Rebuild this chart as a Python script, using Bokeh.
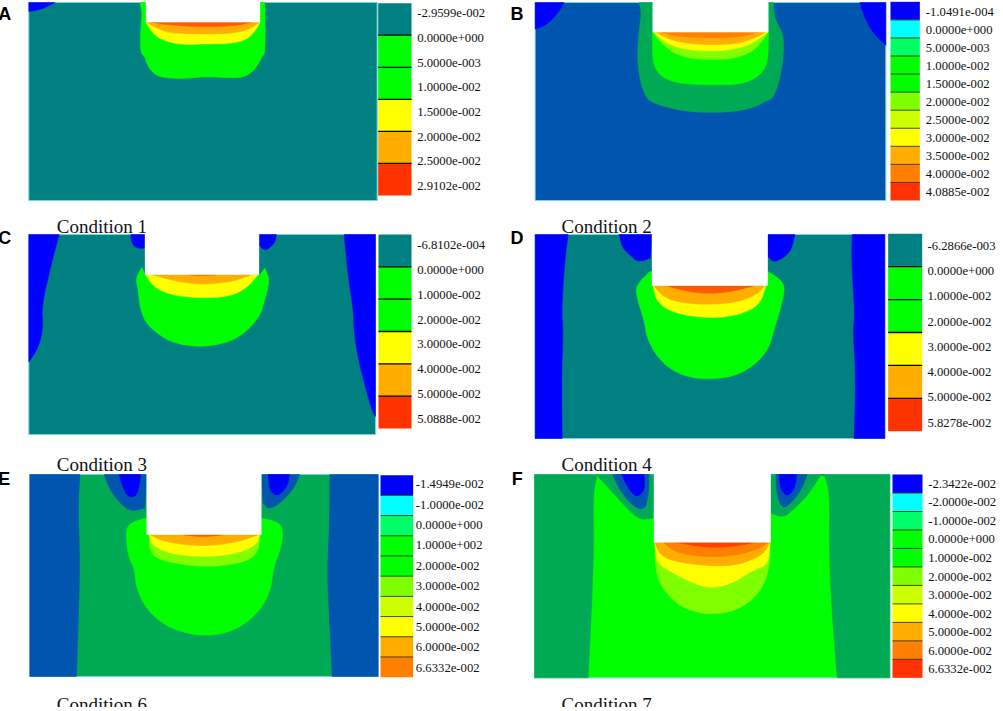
from bokeh.core.properties import value
from bokeh.embed import file_html
from bokeh.plotting import figure
from bokeh.resources import INLINE

TEAL = "#008080"
NAVY = "#0055ae"
MID = "#00aa55"
LIME = "#00ff00"
CHART = "#80ff00"
YELLOW = "#ffff00"
AMBER = "#ffae00"
ORANGE = "#ff8000"
HOT = "#ff5a00"
BLUE = "#0000ff"

# legend colours and tick labels
bands_short = [TEAL, LIME, LIME, YELLOW, AMBER, "#ff3300"]
bands_b = [BLUE, "#00ffff", "#00ff66", LIME, LIME, CHART, "#ccff00", YELLOW, AMBER, ORANGE, "#ff3300"]
bands_e = bands_b[:-1]

labels_a = ["-2.9599e-002", "0.0000e+000", "5.0000e-003", "1.0000e-002", "1.5000e-002", "2.0000e-002", "2.5000e-002", "2.9102e-002"]
labels_b = ["-1.0491e-004", "0.0000e+000", "5.0000e-003", "1.0000e-002", "1.5000e-002", "2.0000e-002", "2.5000e-002", "3.0000e-002", "3.5000e-002", "4.0000e-002", "4.0885e-002"]
labels_c = ["-6.8102e-004", "0.0000e+000", "1.0000e-002", "2.0000e-002", "3.0000e-002", "4.0000e-002", "5.0000e-002", "5.0888e-002"]
labels_d = ["-6.2866e-003", "0.0000e+000", "1.0000e-002", "2.0000e-002", "3.0000e-002", "4.0000e-002", "5.0000e-002", "5.8278e-002"]
labels_e = ["-1.4949e-002", "-1.0000e-002", "0.0000e+000", "1.0000e+002", "2.0000e-002", "3.0000e-002", "4.0000e-002", "5.0000e-002", "6.0000e-002", "6.6332e-002"]
labels_f = ["-2.3422e-002", "-2.0000e-002", "-1.0000e-002", "0.0000e+000", "1.0000e-002", "2.0000e-002", "3.0000e-002", "4.0000e-002", "5.0000e-002", "6.0000e-002", "6.6332e-002"]

# contour outlines, traced at 3x from each panel's corner: (colour, curve, sharp corners)
regions_a = [
    (BLUE, [(175, 18), (150, 32), (120, 42), (97, 45)], [(97, 18)]),
    (LIME, [(430, 18), (437, 50), (432, 100), (432, 170), (445, 180), (452, 205), (470, 230), (495, 243), (560, 247), (625, 240), (690, 244), (740, 243), (770, 225), (790, 195), (797, 180), (806, 170), (806, 60), (805, 18)], []),
    (YELLOW, [(448, 77), (465, 105), (490, 128), (550, 145), (625, 142), (700, 142), (750, 130), (775, 105), (791, 77)], []),
    (AMBER, [(450, 77), (480, 95), (520, 110), (625, 113), (720, 110), (765, 95), (790, 77)], []),
    (HOT, [(465, 77), (510, 85), (620, 92), (720, 88), (765, 77)], []),
]
regions_b = [
    (BLUE, [(203, 18), (180, 55), (150, 85), (116, 98)], [(116, 18)]),
    (BLUE, [(1090, 18), (1105, 65), (1130, 110), (1168, 147)], [(1168, 18)]),
    (MID, [(428, 18), (435, 50), (428, 100), (422, 180), (430, 250), (445, 295), (460, 315), (510, 332), (570, 345), (640, 348), (720, 345), (780, 330), (815, 310), (830, 305), (850, 250), (862, 170), (860, 110), (835, 70), (830, 18)], []),
    (LIME, [(468, 107), (468, 190), (480, 225), (510, 250), (560, 262), (640, 265), (720, 265), (770, 250), (800, 225), (815, 190), (816, 107)], []),
    (CHART, [(470, 107), (490, 135), (530, 170), (590, 188), (640, 188), (710, 188), (770, 165), (800, 130), (815, 107)], []),
    (YELLOW, [(472, 107), (495, 130), (540, 155), (640, 166), (740, 155), (790, 125), (814, 107)], []),
    (AMBER, [(478, 107), (510, 125), (560, 140), (640, 145), (720, 142), (775, 125), (808, 107)], []),
    (ORANGE, [(495, 107), (540, 120), (640, 125), (730, 122), (785, 107)], []),
]
regions_c = [
    (BLUE, [(188, 24), (165, 110), (135, 240), (140, 305), (125, 365), (97, 407)], [(97, 24)]),
    (BLUE, [(1043, 24), (1055, 150), (1072, 260), (1072, 310), (1085, 400), (1125, 550), (1137, 570)], [(1137, 24)]),
    (BLUE, [(403, 24), (405, 50), (420, 65), (445, 65)], [(445, 24)]),
    (BLUE, [(788, 55), (795, 65), (810, 72), (835, 50), (840, 24)], [(788, 24)]),
    (LIME, [(437, 122), (417, 155), (425, 190), (430, 240), (445, 285), (480, 320), (530, 350), (610, 362), (690, 350), (745, 320), (790, 270), (805, 220), (820, 160), (805, 125)], [(790, 145), (445, 145)]),
    (YELLOW, [(448, 145), (470, 180), (520, 205), (610, 215), (700, 210), (750, 185), (785, 145)], []),
    (AMBER, [(468, 145), (540, 165), (620, 175), (710, 165), (765, 145)], []),
    (HOT, [(580, 145), (620, 147), (660, 145)], []),
]
regions_d = [
    (BLUE, [(215, 24), (205, 100), (195, 250), (200, 315), (195, 450), (197, 636)], [(116, 636), (116, 24)]),
    (BLUE, [(1067, 24), (1065, 100), (1075, 260), (1070, 320), (1078, 450), (1073, 636)], [(1165, 636), (1165, 24)]),
    (BLUE, [(368, 24), (378, 65), (405, 90), (425, 107), (462, 95)], [(466, 24)]),
    (BLUE, [(815, 90), (830, 108), (860, 95), (885, 70), (895, 24)], [(814, 24)]),
    (LIME, [(460, 135), (420, 175), (420, 210), (445, 290), (450, 330), (480, 390), (530, 435), (590, 455), (645, 458), (710, 450), (770, 420), (815, 370), (830, 320), (865, 200), (860, 165), (815, 135)], []),
    (YELLOW, [(470, 178), (480, 225), (530, 260), (640, 276), (730, 265), (790, 235), (808, 178)], []),
    (AMBER, [(472, 178), (500, 212), (560, 230), (640, 234), (720, 228), (780, 205), (805, 178)], []),
    (HOT, [(512, 178), (570, 195), (640, 202), (710, 195), (770, 178)], []),
]
regions_e = [
    (NAVY, [(250, 24), (245, 120), (250, 300), (245, 480), (240, 630)], [(100, 630), (100, 24)]),
    (NAVY, [(1000, 24), (1000, 150), (992, 320), (1000, 480), (1007, 630)], [(1145, 630), (1145, 24)]),
    (NAVY, [(323, 24), (340, 70), (375, 115), (405, 135), (445, 125)], [(450, 24)]),
    (NAVY, [(800, 110), (815, 128), (845, 115), (890, 70), (910, 24)], [(795, 24)]),
    (BLUE, [(368, 24), (380, 65), (395, 92), (420, 90), (430, 50), (432, 24)], []),
    (BLUE, [(815, 24), (820, 75), (845, 90), (872, 60), (880, 24)], []),
    (LIME, [(445, 155), (395, 172), (388, 205), (395, 270), (415, 310), (418, 360), (450, 430), (510, 480), (580, 503), (630, 507), (690, 500), (750, 470), (800, 420), (825, 360), (830, 305), (855, 240), (860, 185), (840, 165), (795, 155)], []),
    (CHART, [(458, 205), (460, 260), (500, 285), (620, 303), (740, 290), (785, 260), (790, 205)], []),
    (YELLOW, [(458, 205), (465, 235), (520, 262), (620, 272), (720, 262), (780, 235), (790, 205)], []),
    (AMBER, [(460, 205), (510, 228), (620, 240), (720, 228), (785, 205)], []),
    (HOT, [(560, 205), (620, 212), (680, 205)], []),
]
regions_f = [
    (MID, [(300, 36), (290, 80), (292, 250), (285, 430), (275, 634)], [(114, 634), (114, 24), (300, 24)]),
    (MID, [(985, 30), (1000, 80), (998, 250), (1005, 420), (1022, 634)], [(1180, 634), (1180, 24), (975, 24)]),
    (MID, [(310, 36), (350, 80), (395, 130), (430, 160), (470, 155)], [(472, 24), (300, 24)]),
    (MID, [(823, 140), (860, 155), (895, 125), (935, 85), (970, 30)], [(985, 24), (823, 24)]),
    (NAVY, [(348, 24), (370, 70), (405, 115), (440, 133), (455, 100), (458, 24)], []),
    (NAVY, [(838, 24), (840, 80), (855, 125), (880, 115), (915, 70), (932, 24)], []),
    (BLUE, [(375, 24), (395, 65), (420, 95), (445, 70), (443, 24)], []),
    (BLUE, [(848, 24), (852, 70), (875, 92), (897, 60), (900, 24)], []),
    (CHART, [(475, 228), (478, 320), (500, 370), (550, 420), (610, 440), (650, 443), (710, 435), (770, 400), (805, 350), (820, 290), (820, 228)], []),
    (YELLOW, [(475, 228), (480, 290), (530, 320), (600, 355), (650, 365), (710, 350), (770, 310), (815, 295), (820, 228)], []),
    (AMBER, [(475, 228), (490, 265), (530, 285), (650, 300), (730, 295), (800, 265), (820, 228)], []),
    (ORANGE, [(500, 228), (540, 260), (640, 273), (730, 265), (790, 245), (815, 228)], []),
    ("#ff4000", [(540, 228), (640, 245), (730, 238), (770, 228)], []),
]

panels = [
    dict(letter="A", letter_at=(5, 52), cond="Condition 1", cond_at=(181, 690), origin=(0, 0), box=(97, 1142, 18, 612), notch=(448, 791, 77), base=TEAL,
         regions=regions_a, bands=bands_short, labels=labels_a, legend=(1145, 1245, 20, 597), label_at=(1262, 50, 569), sep=("#000000", 1.3)),
    dict(letter="B", letter_at=(42, 52), cond="Condition 2", cond_at=(195, 690), origin=(500, 0), box=(116, 1168, 18, 612), notch=(468, 816, 107), base=NAVY,
         regions=regions_b, bands=bands_b, labels=labels_b, legend=(1182, 1270, 16, 612), label_at=(1288, 45, 585), sep=("#333300", 0.9)),
    dict(letter="C", letter_at=(5, 35), cond="Condition 3", cond_at=(181, 713), origin=(0, 230), box=(97, 1137, 24, 624), notch=(445, 788, 145), base=TEAL,
         regions=regions_c, bands=bands_short, labels=labels_c, legend=(1146, 1245, 24, 606), label_at=(1262, 55, 578), sep=("#000000", 1.3)),
    dict(letter="D", letter_at=(42, 35), cond="Condition 4", cond_at=(195, 713), origin=(500, 230), box=(116, 1165, 24, 636), notch=(466, 814, 178), base=TEAL,
         regions=regions_d, bands=bands_short, labels=labels_d, legend=(1175, 1277, 22, 614), label_at=(1293, 58, 588), sep=("#000000", 1.3)),
    dict(letter="E", letter_at=(5, 38), cond="Condition 6", cond_at=(181, 715), origin=(0, 470), box=(100, 1145, 24, 630), notch=(450, 795, 205), base=MID,
         regions=regions_e, bands=bands_e, labels=labels_e, legend=(1152, 1250, 26, 632), label_at=(1258, 53, 604), sep=("#333300", 0.9)),
    dict(letter="F", letter_at=(46, 38), cond="Condition 7", cond_at=(195, 715), origin=(500, 470), box=(114, 1180, 24, 634), notch=(472, 823, 228), base=LIME,
         regions=regions_f, bands=bands_b, labels=labels_f, legend=(1188, 1278, 24, 634), label_at=(1295, 52, 608), sep=("#333300", 0.9)),
]


def smooth(curve, rounds=2):
    # corner cutting, ends stay where they are
    for _ in range(rounds):
        out = [curve[0]]
        for (x0, y0), (x1, y1) in zip(curve[:-1], curve[1:]):
            out.append((0.75 * x0 + 0.25 * x1, 0.75 * y0 + 0.25 * y1))
            out.append((0.25 * x0 + 0.75 * x1, 0.25 * y0 + 0.75 * y1))
        out.append(curve[-1])
        curve = out
    return curve


p = figure(width=1003, height=711, x_range=(0, 1003), y_range=(711, 0), margin=(-4, -4, -4, -4),
           output_backend="svg", toolbar_location=None, min_border=0)
p.axis.visible = False
p.grid.visible = False
p.outline_line_color = None

for panel in panels:
    ox, oy = panel["origin"]
    px = lambda v: ox + v / 3
    py = lambda v: oy + v / 3

    left, right, top, bottom = panel["box"]
    p.quad(left=px(left), right=px(right), top=py(top), bottom=py(bottom), fill_color=panel["base"],
           line_color="#70d8d8", line_width=1)

    xs, ys = [], []
    colors = []
    for color, curve, corners in panel["regions"]:
        outline = smooth(curve) + corners
        xs.append([px(x) for x, _ in outline])
        ys.append([py(y) for _, y in outline])
        colors.append(color)
    p.patches(xs, ys, fill_color=colors, line_color=colors, line_width=0.5)

    n_left, n_right, n_bottom = panel["notch"]
    p.quad(left=px(n_left), right=px(n_right), top=py(top) - 1, bottom=py(n_bottom), fill_color="white", line_color=None)

    # legend
    l_left, l_right, l_top, l_bottom = panel["legend"]
    n = len(panel["bands"])
    step = (l_bottom - l_top) / n
    tops = [py(l_top + i * step) for i in range(n)]
    bottoms = [py(l_top + (i + 1) * step) for i in range(n)]
    p.quad(left=px(l_left), right=px(l_right), top=tops, bottom=bottoms, fill_color=panel["bands"], line_color=None)
    sep_color, sep_width = panel["sep"]
    p.segment(x0=px(l_left), x1=px(l_right), y0=tops[1:], y1=tops[1:], line_color=sep_color, line_width=sep_width)

    label_x, first, last = panel["label_at"]
    count = len(panel["labels"])
    gap = (last - first) / (count - 1)
    p.text(x=[px(label_x)] * count, y=[py(first + i * gap) for i in range(count)], text=panel["labels"],
           text_font=value("Liberation Serif"), text_font_size="12.7px", text_color="#111111",
           text_baseline="middle", text_align="left")

    cx, cy = panel["cond_at"]
    p.text(x=[px(cx)], y=[py(cy)], text=[panel["cond"]], text_font=value("Liberation Serif"),
           text_font_size="19px", text_color="#111111", text_baseline="alphabetic", text_align="left")
    lx, ly = panel["letter_at"]
    p.text(x=[px(lx)], y=[py(ly)], text=[panel["letter"]], text_font=value("Liberation Sans"),
           text_font_size="18px", text_font_style="bold", text_color="#000000", text_baseline="alphabetic", text_align="left")

open("out.html", "w").write(file_html(p, INLINE))
